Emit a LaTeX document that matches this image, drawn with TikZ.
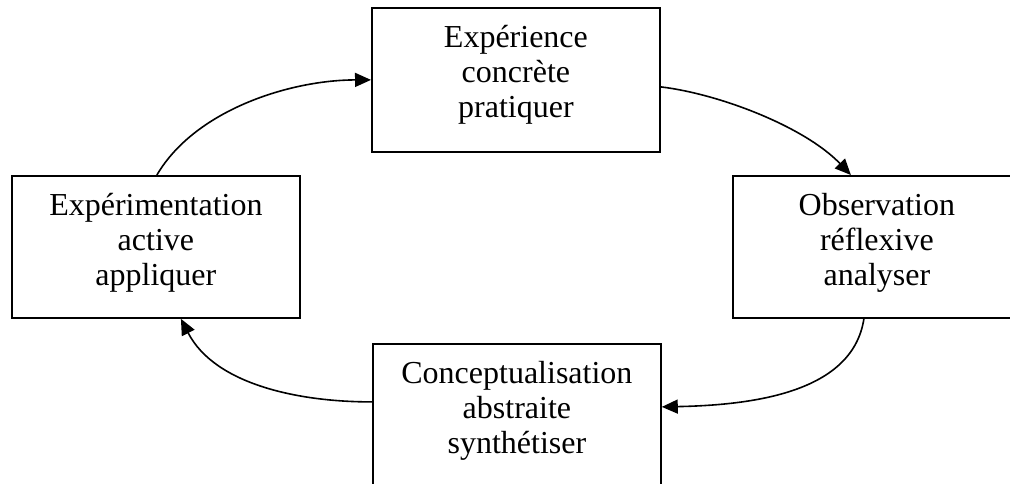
\documentclass[tikz,border=0pt]{standalone}
\usepackage{fontspec}
\setmainfont{Liberation Serif}
\usetikzlibrary{arrows.meta,calc}
\begin{document}
\begin{tikzpicture}[x=1pt,y=-1pt,
  box/.style={draw,line width=1.8pt,minimum width=288pt,inner sep=0pt,anchor=north west},
  txt/.style={anchor=north,inner sep=0pt,align=center,font=\fontsize{32}{35}\selectfont},
  conn/.style={line width=1.6pt,-{Triangle[length=16pt,width=14pt]}}]
\useasboundingbox (0,0) rectangle (1010,484);
\clip (0,0) rectangle (1010,484);
\node[box,minimum height=144pt] (top) at (371,7) {};
\node[box,minimum height=142pt] (left) at (11,175) {};
\node[box,minimum height=142pt] (right) at (732,175) {};
\node[box,minimum height=144pt] (bot) at (372,343) {};
\node[txt] (toptxt) at ($(top.north)+(0,18)$) {Expérience\\concrète\\pratiquer};
\node[txt] (lefttxt) at ($(left.north)+(0,18)$) {Expérimentation\\active\\appliquer};
\node[txt] (righttxt) at ($(right.north)+(0,18)$) {Observation\\réflexive\\analyser};
\node[txt] (bottxt) at ($(bot.north)+(0,18)$) {Conceptualisation\\abstraite\\synthétiser};
\draw[conn] ($(left.north)+(1,0)$) .. controls (195,110) and (290,80) .. (top.west);
\draw[conn] ($(top.east)+(0,7)$) .. controls (720,94) and (805,127) .. ($(right.north)+(-26,0)$);
\draw[conn] ($(right.south)+(-13,0)$) .. controls (853,390) and (760,405) .. ($(bot.east)+(0,-9)$);
\draw[conn] ($(bot.west)+(0,-14)$) .. controls (300,402) and (215,385) .. ($(left.south)+(25,0)$);
\end{tikzpicture}
\end{document}
